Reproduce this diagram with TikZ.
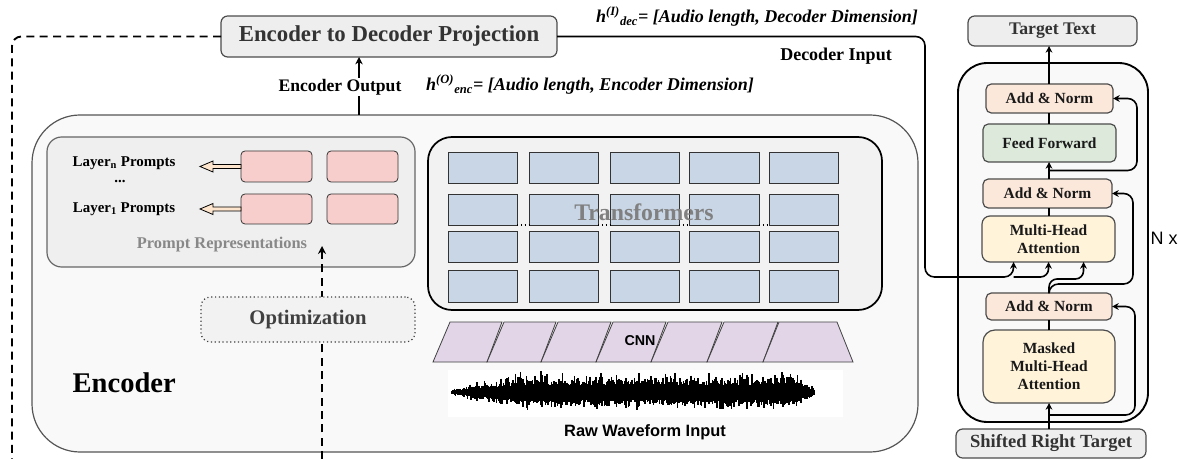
\documentclass[tikz,border=0pt]{standalone}
\usepackage{fontspec}
\setmainfont{Liberation Serif}
\setsansfont{Liberation Sans}
\usetikzlibrary{arrows.meta,calc}
\definecolor{encfill}{HTML}{F9F9F9}
\definecolor{promptfill}{HTML}{EFEFEF}
\definecolor{trfill}{HTML}{F2F2F2}
\definecolor{pinkc}{HTML}{F8CECC}
\definecolor{bluec}{HTML}{C9D6E6}
\definecolor{purplec}{HTML}{E1D5E7}
\definecolor{peachc}{HTML}{FCE8DA}
\definecolor{greenc}{HTML}{DCE9DB}
\definecolor{yellowc}{HTML}{FFF3DA}
\definecolor{boxgray}{HTML}{EEEEEE}
\definecolor{txtdark}{HTML}{333333}
\definecolor{txtlight}{HTML}{888888}
\definecolor{arrowpeach}{HTML}{FDE4CC}
\definecolor{edgegray}{HTML}{555555}
% box by pixel corners: name, x1, y1, x2, y2, style, text
\newcommand\pxbox[7]{\node[#6, minimum width={(#4-#2)*0.75pt}, minimum height={(#5-#3)*0.75pt}]
  (#1) at ({(#2+#4)/2},{(#3+#5)/2}) {#7};}
\tikzset{
  fitbox/.style={inner sep=0pt, outer sep=0pt, anchor=center},
  encbox/.style={fitbox, draw=edgegray, fill=encfill, line width=0.9pt, rounded corners=36pt},
  promptbox/.style={fitbox, draw=black!60, fill=promptfill, line width=0.9pt, rounded corners=11pt},
  pinkbox/.style={fitbox, draw=black!80, fill=pinkc, line width=0.6pt, rounded corners=3pt},
  bluebox/.style={fitbox, draw=black!80, fill=bluec, line width=0.7pt},
  trbox/.style={fitbox, draw=black, fill=trfill, line width=1.3pt, rounded corners=18pt},
  optbox/.style={fitbox, draw=black!75, fill=trfill, line width=0.9pt, dotted, rounded corners=7pt,
     font=\fontsize{15.5}{18}\selectfont\bfseries, text=black!75},
  graybox/.style={fitbox, draw=black!70, fill=boxgray, line width=0.9pt, rounded corners=5pt,
     font=\bfseries, text=txtdark},
  decbox/.style={fitbox, draw=black!70, line width=0.9pt, rounded corners=4pt,
     font=\fontsize{11.6}{13.5}\selectfont\bfseries, text=black!90, align=center},
  decouter/.style={fitbox, draw=black, fill=encfill, line width=1.4pt, rounded corners=22pt},
  conn/.style={draw=black, line width=1.2pt},
  arr/.style={conn, -{Stealth[length=5pt,width=5pt]}},
  thinarr/.style={draw=black, line width=0.9pt, -{Stealth[length=5.5pt,width=5.5pt]}},
  dashline/.style={draw=black, line width=1.4pt, dash pattern=on 6pt off 4pt},
  harrow/.style={draw=black, fill=arrowpeach, line width=0.6pt},
  cnnshape/.style={draw=black!75, fill=purplec, line width=0.6pt},
  wave/.style={draw=black, line width=1.2pt},
  lbl/.style={inner sep=1pt},
}
\begin{document}
\begin{tikzpicture}[x=0.75pt,y=-0.75pt]
\useasboundingbox (0,0) rectangle (1180,459);

% ---------- Encoder ----------
\pxbox{enc}{32}{115}{918}{452}{encbox}{}
\node[anchor=west, font=\fontsize{21.4}{24}\selectfont\bfseries] (enclbl) at (68,383) {Encoder};

% projection box
\pxbox{proj}{221}{16}{557}{57}{graybox, font=\fontsize{17.1}{20}\selectfont\bfseries}{Encoder to Decoder Projection}

% left dashed loop
\coordinate (dashend) at (12,459);
\draw[dashline, rounded corners=7pt] (proj.west) -| (dashend);

% encoder output arrow
\coordinate (eo) at (359,115);
\draw[thinarr] (eo) -- (eo |- proj.south);
\node[lbl, fill=white, font=\fontsize{13.2}{15}\selectfont\bfseries] (eolbl) at (340,87) {Encoder Output};
\node[lbl, font=\fontsize{13.5}{15}\selectfont\bfseries\itshape] (henc) at (590,85)
  {h\textsuperscript{(O)}\textsubscript{enc}= [Audio length, Encoder Dimension]};

% prompt representations
\pxbox{prompt}{47}{137}{415}{267}{promptbox}{}
\pxbox{p1}{241}{151}{312}{182}{pinkbox}{}
\pxbox{p2}{327}{151}{398}{182}{pinkbox}{}
\pxbox{p3}{241}{194}{312}{224}{pinkbox}{}
\pxbox{p4}{327}{194}{398}{224}{pinkbox}{}
\node[lbl, font=\fontsize{11.2}{13}\selectfont\bfseries] (ln) at (124,163) {Layer\textsubscript{n} Prompts};
\node[lbl, font=\fontsize{11.2}{13}\selectfont\bfseries] (ldots) at (120,182) {...};
\node[lbl, font=\fontsize{11.2}{13}\selectfont\bfseries] (l1) at (124,209) {Layer\textsubscript{1} Prompts};
\draw[harrow] ($(p1.west)+(0,-2)$) -- ++(-28,0) -- ++(0,-3.5) -- ++(-13,5.5) -- ++(13,5.5) -- ++(0,-3.5) -- ($(p1.west)+(0,2)$) -- cycle;
\draw[harrow] ($(p3.west)+(0,-2)$) -- ++(-28,0) -- ++(0,-3.5) -- ++(-13,5.5) -- ++(13,5.5) -- ++(0,-3.5) -- ($(p3.west)+(0,2)$) -- cycle;
\node[lbl, text=txtlight, font=\fontsize{12.3}{14}\selectfont\bfseries] (prlbl) at (222,245) {Prompt Representations};

% optimization
\coordinate (optsrc) at (322,459);
\coordinate (opttip) at (322,246);
\draw[dashline, -{Stealth[length=6pt,width=6pt]}] (optsrc) -- (opttip);
\pxbox{opt}{201}{297}{415}{342}{optbox}{Optimization}

% transformers
\pxbox{tr}{428}{137}{882}{310}{trbox}{}
\foreach \c/\xa/\xb in {1/448/517,2/529/598,3/610/679,4/689/759,5/769/838}{
  \foreach \r/\ya/\yb in {1/152/183,2/194/225,3/231/262,4/270/302}{
    \pxbox{b-\r-\c}{\xa}{\ya}{\xb}{\yb}{bluebox}{}
  }
}
\foreach \c [evaluate=\c as \n using int(\c+1)] in {1,2,3,4}{
  \draw[black, line width=0.9pt, dotted] (b-2-\c.south east) -- (b-2-\n.south west);
}
\node[lbl, text=black!50, font=\fontsize{17.8}{20}\selectfont\bfseries] (trlbl) at (644,212) {Transformers};

% CNN
\foreach \xa/\xb in {433/487,487/541,541/596,596/651,651/707,707/763}{
  \draw[cnnshape] (\xa,362) -- (\xa+17,322) -- (\xb+15,322) -- (\xb,362) -- cycle;
}
\draw[cnnshape] (763,362) -- (779,322) -- (837,322) -- (853,362) -- cycle;
\node[lbl, font=\sffamily\fontsize{10.7}{12}\selectfont\bfseries] (cnn) at (640,341) {CNN};

% waveform
\fill[white] (448,370) rectangle (843,417);
\pgfmathsetseed{42}
\foreach \x in {452,453.2,...,815}{
  \pgfmathsetmacro\env{(\x<470)?(3+(\x-452)*0.25):((\x<515)?(8+(\x-470)*0.15):((\x>795)?(17-(\x-795)*0.65):17))}
  \pgfmathsetmacro\ra{rnd}
  \pgfmathsetmacro\rb{rnd}
  \pgfmathsetmacro\up{\env*(0.4+0.25*rnd+0.6*\ra*\ra*\ra)}
  \pgfmathsetmacro\dn{\env*(0.45+0.25*rnd+0.45*\rb*\rb*\rb)}
  \draw[wave] (\x,392-\up) -- (\x,392+\dn);
}
\node[lbl, font=\sffamily\fontsize{12.3}{14}\selectfont\bfseries] (raw) at (645,432) {Raw Waveform Input};

% ---------- Decoder ----------
\pxbox{dec}{958}{63}{1148}{422}{decouter}{}
\pxbox{target}{968}{16}{1137}{46}{graybox, font=\fontsize{13.3}{15}\selectfont\bfseries}{Target Text}
\pxbox{shift}{956}{429}{1146}{458}{graybox, font=\fontsize{13.9}{16}\selectfont\bfseries}{Shifted Right Target}
\pxbox{an1}{986}{84}{1113}{113}{decbox, fill=peachc}{Add \& Norm}
\pxbox{ff}{983}{124}{1116}{162}{decbox, fill=greenc}{Feed Forward}
\pxbox{an2}{983}{179}{1112}{208}{decbox, fill=peachc}{Add \& Norm}
\pxbox{mha}{982}{216}{1115}{262}{decbox, fill=yellowc, rounded corners=6pt}{Multi-Head\\Attention}
\pxbox{an3}{986}{293}{1112}{320}{decbox, fill=peachc}{Add \& Norm}
\pxbox{mmha}{983}{330}{1115}{403}{decbox, fill=yellowc, rounded corners=9pt}{Masked\\Multi-Head\\Attention}
\node[lbl, font=\sffamily\fontsize{13.5}{15}\selectfont] (nx) at (1164,238) {N x};

% vertical flow
\draw[arr] (an1.north -| 1049,0) -- (target.south -| 1049,0);
\draw[conn] (ff.north -| 1049,0) -- (an1.south -| 1049,0);
\draw[arr] (an2.north -| 1049,0) -- (ff.south -| 1049,0);
\draw[conn] (mha.north -| 1049,0) -- (an2.south -| 1049,0);
\draw[conn] (mmha.north -| 1049,0) -- (an3.south -| 1049,0);
\draw[arr] (shift.north -| 1049,0) -- (mmha.south -| 1049,0);

% residuals
\coordinate (c1) at ($(an2.north -| 1049,0)!0.5!(ff.south -| 1049,0)$);
\coordinate (x1) at (1137,0);
\draw[arr, rounded corners=7pt] (c1) -- (c1 -| x1) -- (an1.east -| x1) -- (an1.east);
\coordinate (c2) at (1049,284);
\coordinate (x2) at (1133,0);
\draw[arr, rounded corners=7pt] (an3.north -| c2) -- (c2) -- (c2 -| x2) -- (an2.east -| x2) -- (an2.east);
\draw[arr, rounded corners=6pt] (an3.north -| c2) -- ($(c2)+(0,-5)$) -| ($(mha.south)+(35,0)$);
\coordinate (c3) at (1049,415);
\coordinate (x3) at (1135,0);
\draw[arr, rounded corners=7pt] (c3) -- (c3 -| x3) -- (an3.east -| x3) -- (an3.east);

% encoder -> decoder
\coordinate (dj) at (925,277);
\draw[arr, rounded corners=7pt] (proj.east) -| (dj) -| ($(mha.south)+(-35,0)$);
\draw[arr, rounded corners=6pt] ($(mha.south)+(-35,15)$) -| (mha.south);
\node[lbl, font=\fontsize{13.5}{15}\selectfont\bfseries\itshape] (hdec) at (757,17)
  {h\textsuperscript{(I)}\textsubscript{dec}= [Audio length, Decoder Dimension]};
\node[lbl, font=\fontsize{13.5}{15}\selectfont\bfseries] (decin) at (836,56) {Decoder Input};
\end{tikzpicture}
\end{document}
